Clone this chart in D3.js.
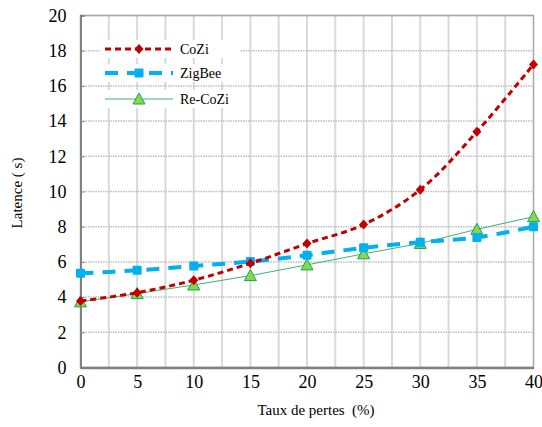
<!DOCTYPE html>
<html><head><meta charset="utf-8">
<script src="https://cdn.jsdelivr.net/npm/d3@7"></script>
<style>body{margin:0;background:#fff}svg{display:block}svg text{font-family:"Liberation Serif","Tinos","Noto Serif","FreeSerif","Times",serif;white-space:pre}</style>
</head><body>
<svg id="c" width="542" height="427"></svg>
<script>
const xValues = [0, 5, 10, 15, 20, 25, 30, 35, 40];
const cozi = [3.78, 4.25, 4.96, 5.92, 7.04, 8.12, 10.1, 13.4, 17.22];
const zigbee = [5.35, 5.52, 5.77, 6.02, 6.38, 6.8, 7.12, 7.39, 8.0];
const recozi = [3.73, 4.2, 4.69, 5.22, 5.83, 6.46, 7.05, 7.85, 8.57];
const seriesNames = ["CoZi", "ZigBee", "Re-CoZi"];
const xTicks = [0, 5, 10, 15, 20, 25, 30, 35, 40];
const yTicks = [0, 2, 4, 6, 8, 10, 12, 14, 16, 18, 20];
const xTitle = "Taux de pertes  (%)";
const yTitle = "Latence ( s)";

const svg = d3.select("#c");
const L = 80.5, R = 533.5, T = 15.5, B = 367.5;
const x = d3.scaleLinear().domain([0, 40]).range([L, R]);
const y = d3.scaleLinear().domain([0, 20]).range([B, T]);

const vgrid = d3.range(2.5, 40, 2.5);
svg.append("g").selectAll("line").data(vgrid).join("line")
  .attr("x1", d => x(d)).attr("x2", d => x(d)).attr("y1", T).attr("y2", B)
  .attr("stroke", "#d9d9d9").attr("stroke-width", 2);
svg.append("g").selectAll("line").data(yTicks.slice(1)).join("line")
  .attr("x1", L).attr("x2", R).attr("y1", d => y(d)).attr("y2", d => y(d))
  .attr("stroke", "#bfbfbf").attr("stroke-width", 1.5).attr("stroke-dasharray", "1.5,1");

svg.append("rect").attr("x", L).attr("y", T).attr("width", R - L).attr("height", B - T)
  .attr("fill", "none").attr("stroke", "#a6a6a6").attr("stroke-width", 1.5);

const yAxis = svg.append("g").attr("transform", `translate(${L},0)`)
  .call(d3.axisLeft(y).tickValues(yTicks).tickSize(-4).tickPadding(14));
yAxis.attr("font-family", null);
yAxis.select(".domain").attr("stroke", "#808080").attr("stroke-width", 2);
yAxis.selectAll(".tick line").attr("stroke", "#808080");
yAxis.selectAll("text").attr("font-size", 18).attr("fill", "#000");

const xAxis = svg.append("g").attr("transform", `translate(0,${B})`)
  .call(d3.axisBottom(x).tickValues(xTicks).tickSize(0).tickPadding(8));
xAxis.attr("font-family", null);
xAxis.select(".domain").attr("stroke", "#808080").attr("stroke-width", 2.5);
xAxis.selectAll("text").attr("font-size", 18).attr("fill", "#000");

svg.append("text").attr("x", 316).attr("y", 415).attr("text-anchor", "middle")
  .attr("font-size", 15).text(xTitle);
svg.append("text").attr("transform", "translate(22,193) rotate(-90)").attr("text-anchor", "middle")
  .attr("font-size", 15).text(yTitle);

const cfg = [
  {data: cozi, color: "#c00000", width: 3, dash: "6,4", curve: d3.curveCatmullRom, marker: "diamond"},
  {data: zigbee, color: "#00b0f0", width: 4, dash: "13,9", curve: d3.curveCatmullRom, marker: "square"},
  {data: recozi, color: "#3cb371", width: 1, dash: null, curve: d3.curveLinear, marker: "triangle"}
];

function drawMarker(g, type, cx, cy) {
  if (type === "diamond") {
    g.append("path").attr("d", `M${cx},${cy-5}L${cx+4.5},${cy}L${cx},${cy+5}L${cx-4.5},${cy}Z`)
      .attr("fill", "#c00000");
  } else if (type === "square") {
    g.append("rect").attr("x", cx-4.5).attr("y", cy-4.5).attr("width", 9).attr("height", 9)
      .attr("rx", 1).attr("fill", "#00b0f0");
  } else {
    g.append("path").attr("d", `M${cx},${cy-6}L${cx+6},${cy+5}L${cx-6},${cy+5}Z`)
      .attr("fill", "#92d050").attr("stroke", "#00b050").attr("stroke-width", 1);
  }
}

[2, 1, 0].forEach(i => {
  const c = cfg[i];
  const line = d3.line().x((d, j) => x(xValues[j])).y(d => y(d)).curve(c.curve);
  const p = svg.append("path").datum(c.data).attr("d", line).attr("fill", "none")
    .attr("stroke", c.color).attr("stroke-width", c.width);
  if (c.dash) p.attr("stroke-dasharray", c.dash);
  const g = svg.append("g");
  c.data.forEach((v, j) => drawMarker(g, c.marker, x(xValues[j]), y(v)));
});

const legY = [49, 73, 99];
const leg = svg.append("g");
cfg.forEach((c, i) => {
  leg.append("rect").attr("x", 100).attr("y", legY[i] - 9).attr("width", 140).attr("height", 18).attr("fill", "#fff");
});
cfg.forEach((c, i) => {
  const l = leg.append("line").attr("x1", 105).attr("x2", 173).attr("y1", legY[i]).attr("y2", legY[i])
    .attr("stroke", c.color).attr("stroke-width", c.width);
  if (c.dash) l.attr("stroke-dasharray", c.dash);
  drawMarker(leg, c.marker, 139, legY[i]);
  leg.append("text").attr("x", 180).attr("y", legY[i] + 5)
    .attr("font-size", 14).text(seriesNames[i]);
});
</script>
</body></html>
